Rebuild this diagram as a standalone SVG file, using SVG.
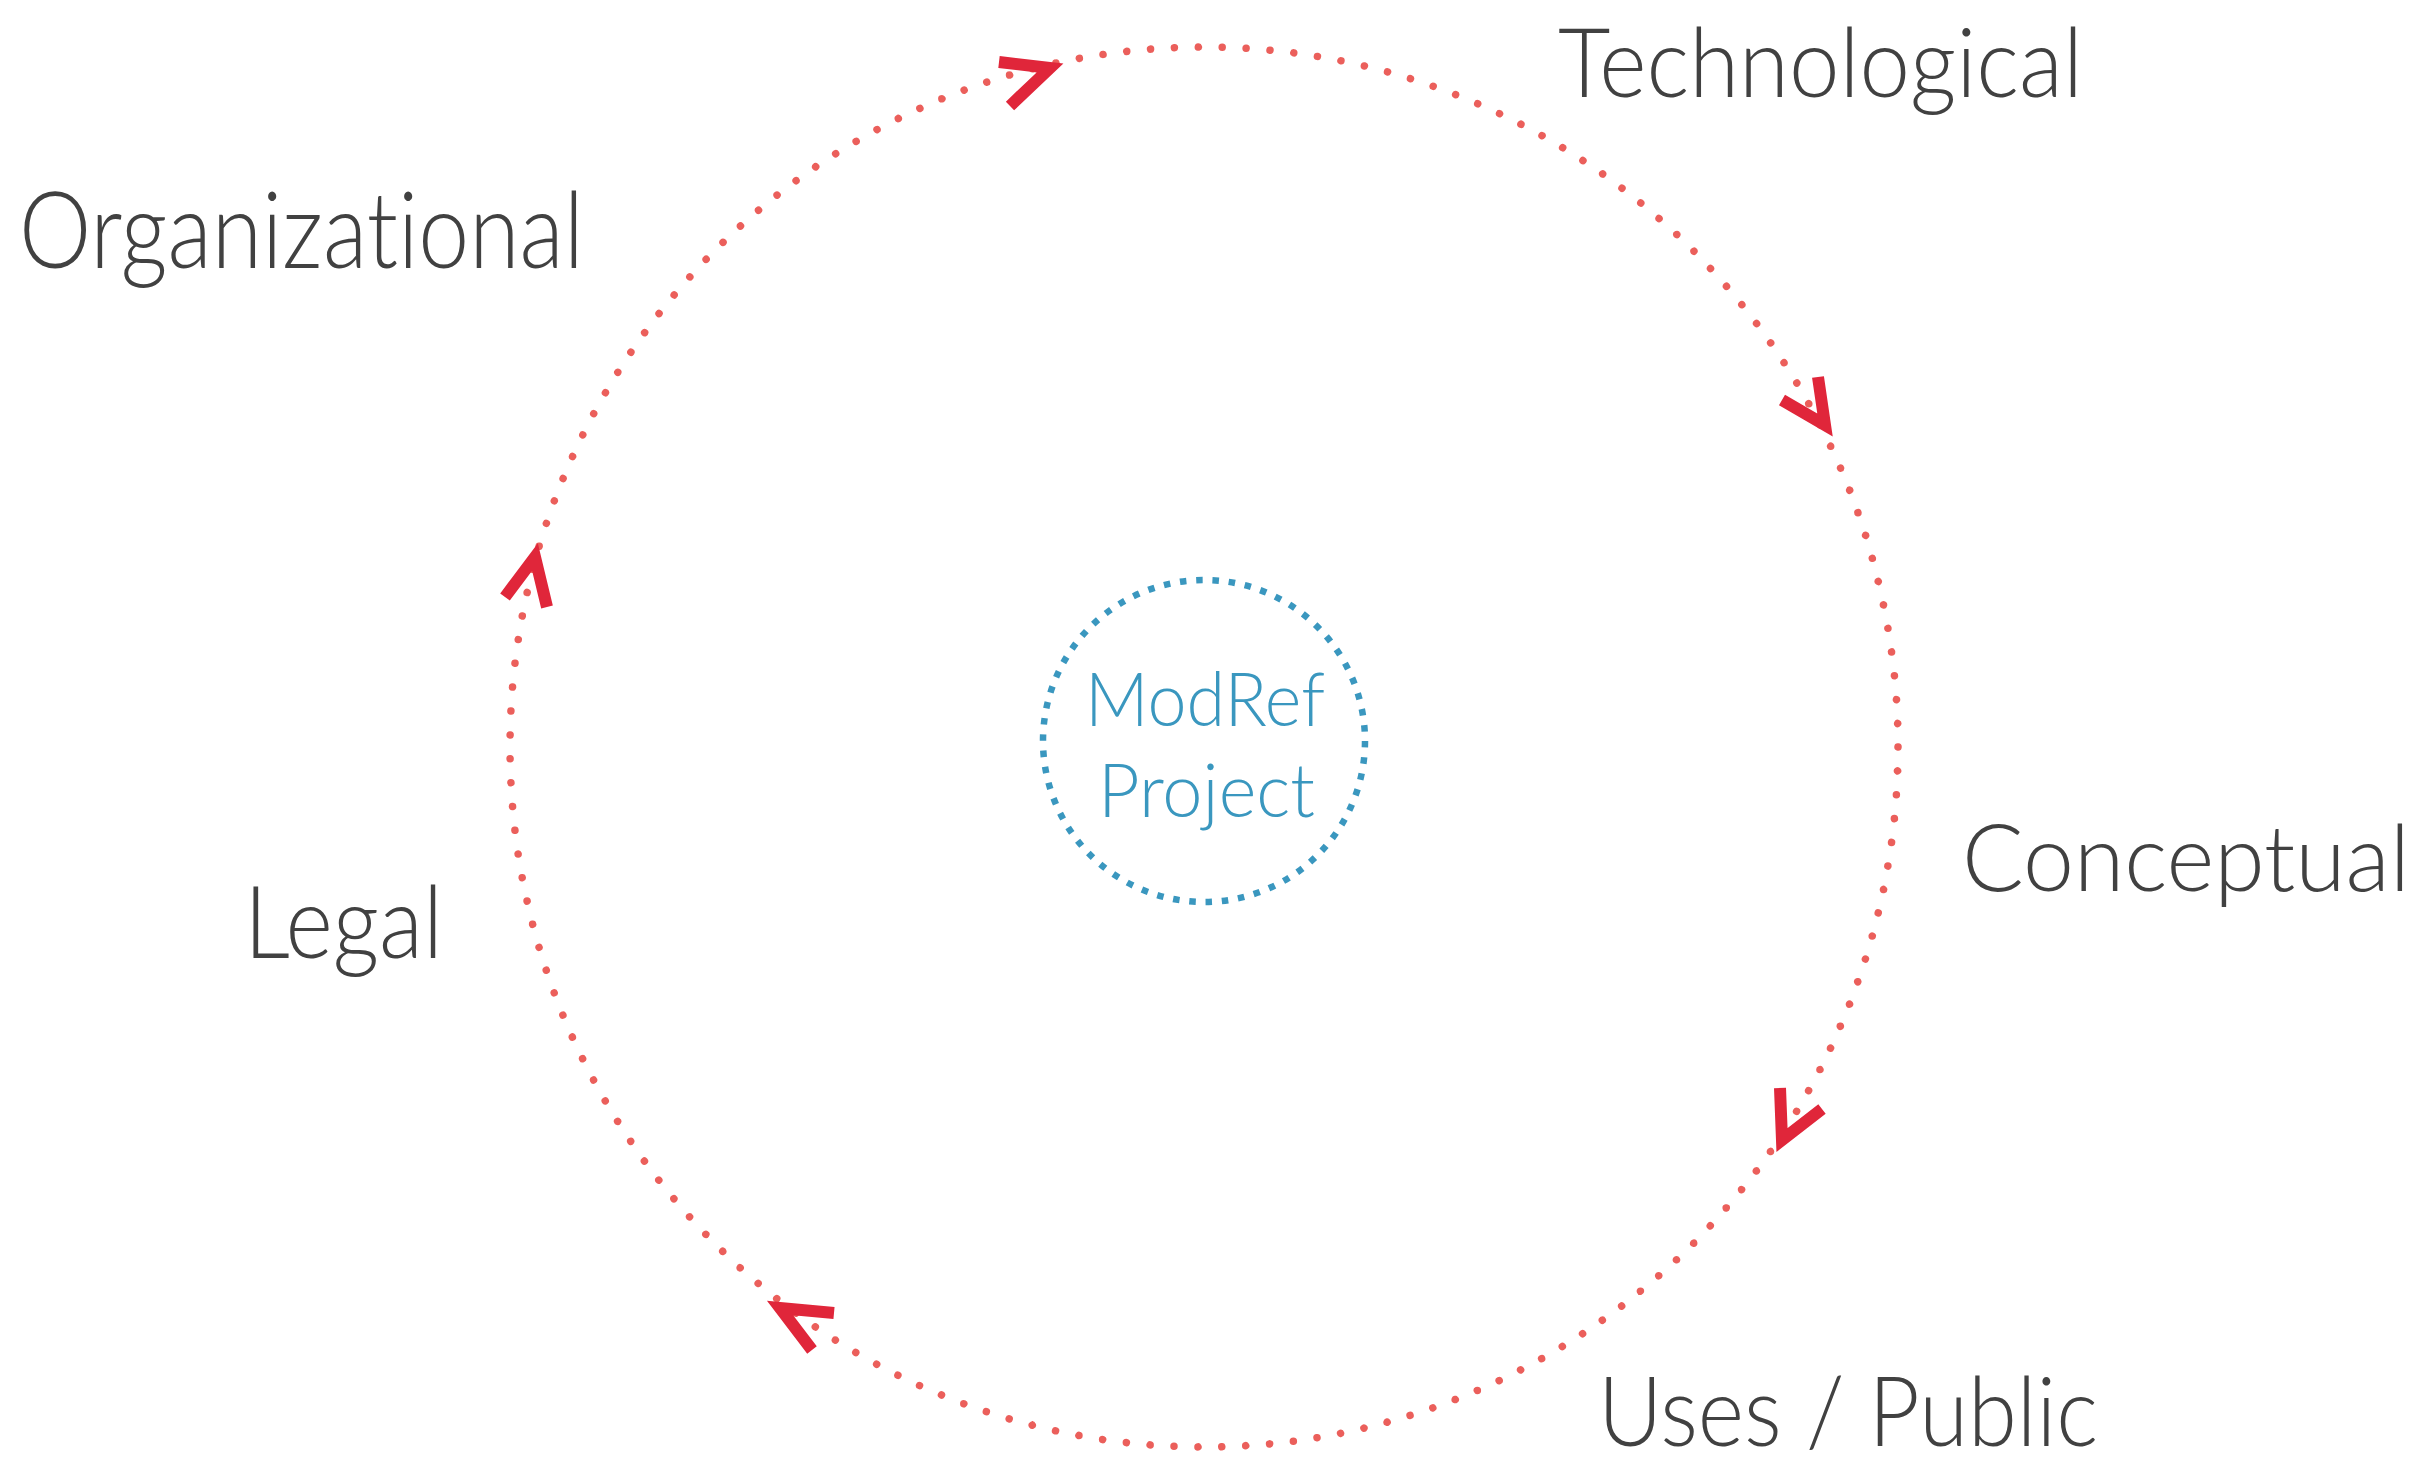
<svg xmlns="http://www.w3.org/2000/svg" width="2423" height="1467" viewBox="0 0 2423 1467">
<style>
.lbl{font-family:Lato,"Liberation Sans","DejaVu Sans",sans-serif;font-weight:300;fill:#414141;font-variant-ligatures:none}
.ctr{font-family:Lato,"Liberation Sans","DejaVu Sans",sans-serif;font-weight:300;fill:#3a97bf;font-size:74px;font-variant-ligatures:none}
.ring{fill:none;stroke:#eb5f5b;stroke-width:7.5;stroke-linecap:round;stroke-dasharray:0.001 23.93}
.chev{fill:none;stroke:#e0263a;stroke-width:12;stroke-linejoin:miter;stroke-linecap:butt}
</style>
<rect width="2423" height="1467" fill="#ffffff"/>
<g id="connectors">
<ellipse class="ring" cx="1204" cy="747" rx="694" ry="700"/>
<path class="chev" d="M999,62 L1050,68 L1010,106"/>
<path class="chev" d="M1782,400 L1825,425 L1818,377"/>
<path class="chev" d="M1780,1088 L1782,1140 L1822,1109"/>
<path class="chev" d="M834,1313 L780,1308 L812,1350"/>
<path class="chev" d="M505,597 L535,557 L547,607"/>
</g>
<g id="center">
<circle cx="1204" cy="741" r="161" fill="none" stroke="#3a97bf" stroke-width="6.5" stroke-dasharray="6.5 9.816"/>
<text class="ctr" x="1085" y="726" textLength="240" lengthAdjust="spacingAndGlyphs">ModRef</text>
<text class="ctr" x="1098" y="817" textLength="217" lengthAdjust="spacingAndGlyphs">Project</text>
</g>
<g id="technological"><text class="lbl" x="1558" y="97" font-size="96" textLength="525" lengthAdjust="spacingAndGlyphs">Technological</text></g>
<g id="organizational"><text class="lbl" x="19" y="268" font-size="106" textLength="565" lengthAdjust="spacingAndGlyphs">Organizational</text></g>
<g id="conceptual"><text class="lbl" x="1962" y="891" font-size="92" textLength="448" lengthAdjust="spacingAndGlyphs">Conceptual</text></g>
<g id="legal"><text class="lbl" x="244" y="958" font-size="100" textLength="199" lengthAdjust="spacingAndGlyphs">Legal</text></g>
<g id="uses-public"><text class="lbl" x="1598" y="1446" font-size="96" textLength="500" lengthAdjust="spacingAndGlyphs">Uses / Public</text></g>
</svg>
